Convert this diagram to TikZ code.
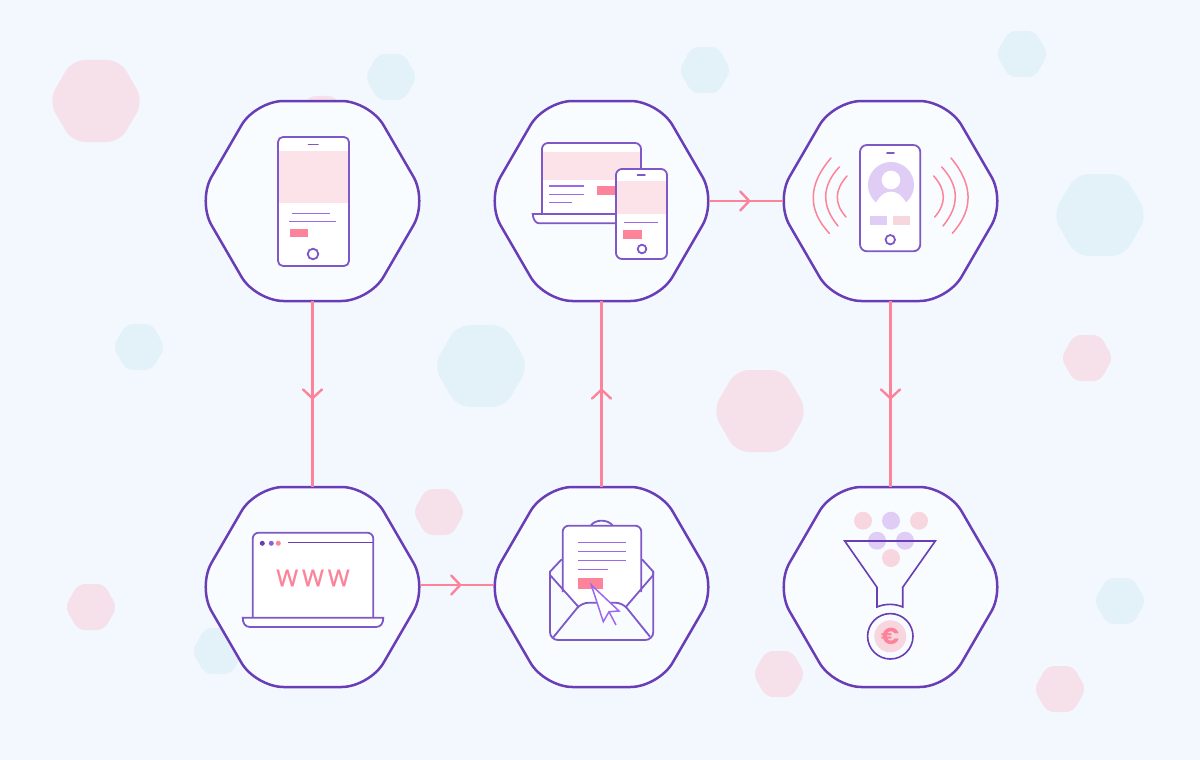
\documentclass[tikz,border=0pt]{standalone}
\usepackage{fontspec}
\setmainfont{Liberation Sans}
\newfontfamily\wwwfont[FakeBold=0.6]{Noto Sans}
\newfontfamily\eurofont{Poppins}
\usetikzlibrary{arrows.meta,decorations.markings}
\definecolor{bgc}{HTML}{F3F8FE}
\definecolor{hexfill}{HTML}{F8FCFF}
\definecolor{hexline}{HTML}{683DB6}
\definecolor{iconline}{HTML}{7D58C6}
\definecolor{textline}{HTML}{9C68EE}
\definecolor{coral}{HTML}{FC8399}
\definecolor{softpink}{HTML}{FCE3EA}
\definecolor{bgpink}{HTML}{F6E1EA}
\definecolor{bgblue}{HTML}{E3F1F9}
\definecolor{lilac}{HTML}{E0CDF6}
\definecolor{dotpink}{HTML}{F8D6E0}
\tikzset{
  icon/.style={draw=iconline,line width=1.8pt,fill=white},
  iconopen/.style={draw=iconline,line width=1.8pt},
  txt/.style={draw=textline,line width=1.5pt},
  wave/.style={draw=coral,line width=1.5pt,line cap=round},
  conn/.style={draw=coral,line width=2.4pt,postaction={decorate},
    decoration={markings,mark=at position #1 with {\arrow[line width=2.4pt,coral]{Straight Barb[length=9pt,width=19pt,round]}}}},
  hexnode/.style={minimum width=215pt,minimum height=200pt,inner sep=0pt,outer sep=0pt},
}
% shape: centre, half-width, top half-width, half-height, corner
\newcommand{\hexshape}[8]{%
  \path[fill=#6,draw=#7,line width=#8,rounded corners=#5pt,shift={(#1)}]
    (-#2,0) -- (-#3,-#4) -- (#3,-#4) -- (#2,0) -- (#3,#4) -- (-#3,#4) -- cycle;}
\newcommand{\bigbg}[2]{\hexshape{#1}{47.5}{24}{41}{13}{#2}{none}{0pt}}
\newcommand{\smallbg}[2]{\hexshape{#1}{26}{13}{23}{7}{#2}{none}{0pt}}
\newcommand{\mainhex}[2]{%
  \hexshape{#2}{115}{57}{100}{28}{hexfill}{hexline}{2.5pt}%
  \node[hexnode] (#1) at (#2) {};}
\begin{document}
\begin{tikzpicture}[x=1pt,y=-1pt]
\useasboundingbox (0,0) rectangle (1200,760);
\fill[bgc] (0,0) rectangle (1200,760);
% background hexagons
\bigbg{96,101}{bgpink}
\bigbg{760,411}{bgpink}
\bigbg{481,366}{bgblue}
\bigbg{1100,215}{bgblue}
\smallbg{391,77}{bgblue}
\smallbg{705,70}{bgblue}
\smallbg{1022,54}{bgblue}
\smallbg{139,347}{bgblue}
\smallbg{1120,601}{bgblue}
\smallbg{218,651}{bgblue}
\smallbg{322,119}{bgpink}
\smallbg{1087,358}{bgpink}
\smallbg{439,512}{bgpink}
\smallbg{91,607}{bgpink}
\smallbg{779,674}{bgpink}
\smallbg{1060,689}{bgpink}
% main hexagons
\mainhex{h1}{312.5,201}
\mainhex{h2}{601.5,201}
\mainhex{h3}{890.5,201}
\mainhex{h4}{312.5,587}
\mainhex{h5}{601.5,587}
\mainhex{h6}{890.5,587}
% connectors
\draw[conn=0.53] (h1.south) -- (h4.north);
\draw[conn=0.53] (h5.north) -- (h2.south);
\draw[conn=0.53] (h3.south) -- (h6.north);
\draw[conn=0.56] (h2.east) -- (h3.west);
\draw[conn=0.56] ([yshift=2pt]h4.east) -- ([yshift=2pt]h5.west);
% icon 1: phone
\draw[icon,rounded corners=5pt] (278,137) rectangle (349,266);
\fill[softpink] (279,151) rectangle (348,203);
\draw[iconopen,line cap=round] (308.5,144.5) -- (318,144.5);
\draw[txt] (292,213.3) -- (329.5,213.3);
\draw[txt] (289,221.3) -- (335.7,221.3);
\fill[coral] (290,229) rectangle (308,237);
\draw[iconopen] (313,254) circle (5.3);
% icon 2: laptop and phone
\draw[iconopen,fill=white,rounded corners=6pt] (542,214) -- (542,143) -- (641,143) -- (641,214);
\draw[iconopen,fill=white] (532.7,214) -- (620,214) -- (620,223.3) -- (539,223.3) .. controls (535.5,223.3) and (533,219) .. (532.7,214) -- cycle;
\fill[softpink] (543.3,152) rectangle (640,180);
\draw[txt] (549.3,186) -- (584.3,186);
\draw[txt] (549.3,194.3) -- (584.3,194.3);
\draw[txt] (549.3,202.3) -- (572.3,202.3);
\fill[coral] (597,186) rectangle (617,195);
\draw[icon,rounded corners=6pt] (616,169) rectangle (667,259);
\fill[softpink] (617.3,180.7) rectangle (666,214);
\draw[iconopen,line cap=round] (637.5,175) -- (645,175);
\draw[txt] (624,222.3) -- (658.3,222.3);
\fill[coral] (623,230) rectangle (642,239);
\draw[iconopen] (642,249) circle (4.3);
% icon 3: ringing phone
\draw[icon,rounded corners=7pt] (860,145) rectangle (920.3,251.3);
\draw[iconopen,line cap=round] (887,153.3) -- (894,153.3);
\fill[lilac] (891,185) circle (23);
\fill[white] (876,202.7) .. controls (881,194) and (886,191.7) .. (891,191.7) .. controls (896,191.7) and (901,194) .. (906,202.7) -- (906,210) -- (876,210) -- cycle;
\fill[white] (891,180) circle (9.3);
\fill[lilac] (870,216) rectangle (887,225);
\fill[dotpink] (893,216) rectangle (910,225);
\draw[iconopen] (890.3,239.7) circle (4.7);
\draw[wave] (831,158) .. controls (808,184.5) and (807.2,209.5) .. (829.3,233.3);
\draw[wave] (839.3,167) .. controls (821.6,186) and (821.2,205.7) .. (838,226);
\draw[wave] (847,176) .. controls (834.4,190) and (834.1,203.6) .. (846,217);
\draw[wave] (951,158) .. controls (973.2,184.5) and (973.9,209.5) .. (952.3,233.3);
\draw[wave] (941.7,167) .. controls (959.4,186) and (959.8,205.7) .. (943,226);
\draw[wave] (933.7,176) .. controls (946.2,190) and (946.5,203.6) .. (934.7,217);
% icon 4: browser laptop
\draw[icon,rounded corners=6pt] (252.7,617.7) -- (252.7,532.7) -- (373.3,532.7) -- (373.3,617.7);
\draw[icon] (242.7,617.7) -- (383.3,617.7) .. controls (383.3,623) and (381,627) .. (376,627) -- (250,627) .. controls (245,627) and (242.7,623) .. (242.7,617.7) -- cycle;
\fill[hexline] (262.3,543.3) circle (2.5);
\fill[textline!90!black] (271.3,543.3) circle (2.5);
\fill[coral] (278.3,543.3) circle (2.5);
\draw[hexline,line width=1.5pt] (288.3,542.3) -- (373.3,542.3);
\node[text=coral,font=\wwwfont\fontsize{23.4}{23.4}\selectfont,inner sep=0pt] (www) at (313,578) {W\kern4pt W\kern4pt W};
% icon 5: envelope
\draw[iconopen] (590.7,525.7) .. controls (595,519) and (608,519) .. (612.7,525.7);
\draw[iconopen,rounded corners=8pt] (550,571.7) -- (550,640) -- (653.3,640) -- (653.3,571.7);
\draw[iconopen] (561.7,559.3) -- (550,571.7) -- (550,575);
\draw[iconopen] (642,559.3) -- (653.3,571.7) -- (653.3,575);
\fill[white] (562.7,592) -- (578.3,606.7) -- (584,602) -- (620,602) -- (626,606.7) -- (641.3,592) -- (641.3,526) -- (562.7,526) -- cycle;
\draw[iconopen,rounded corners=6pt] (562.7,592) -- (562.7,525.7) -- (641.3,525.7) -- (641.3,592);
\draw[iconopen] (550,575) -- (578.3,606.7);
\draw[iconopen] (653.3,575) -- (626,606.7);
\draw[iconopen,rounded corners=7pt] (553.3,637.3) -- (581.5,602.7) -- (622.5,602.7) -- (650,636.7);
\draw[txt] (578.3,542.3) -- (625.7,542.3);
\draw[txt] (578.3,551.3) -- (625.7,551.3);
\draw[txt] (578.3,560.3) -- (625.7,560.3);
\draw[txt] (578.3,569.3) -- (608,569.3);
\fill[coral] (578,578) rectangle (603,588.7);
\draw[draw=textline,line width=1.5pt,fill=white,line join=miter] (591.3,585) -- (603.3,621.7) -- (609,611.7) -- (619,611) -- cycle;
\draw[draw=textline,line width=1.5pt] (609,611.7) -- (616,625);
% icon 6: funnel
\fill[dotpink] (863,520.7) circle (9);
\fill[lilac] (891,520.7) circle (9);
\fill[dotpink] (919,520.7) circle (9);
\fill[lilac] (877,540.7) circle (9);
\fill[lilac] (905,540.7) circle (9);
\fill[dotpink] (891,558) circle (9);
\draw[hexline,line width=1.6pt,line join=miter] (844.7,541) -- (935.3,541) -- (902.7,587.3) -- (902.7,607) .. controls (895,603.5) and (885,603.5) .. (877,607) -- (877,587.3) -- cycle;
\draw[hexline,line width=1.6pt] (890.3,636.3) circle (22.7);
\fill[dotpink] (890.3,636.3) circle (16);
\node[text=coral,font=\eurofont\bfseries\fontsize{23}{23}\selectfont,inner sep=0pt] (euro) at (890.3,636.5) {€};
\end{tikzpicture}
\end{document}
